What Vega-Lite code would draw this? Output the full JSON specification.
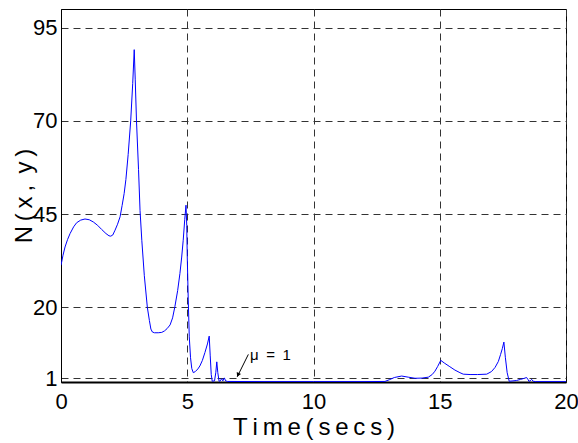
{
  "$schema": "https://vega.github.io/schema/vega-lite/v6.json",
  "width": 505,
  "height": 373,
  "autosize": "none",
  "padding": {"left": 61, "top": 9, "right": 12, "bottom": 61},
  "background": "white",
  "config": {
    "view": {"stroke": "black", "strokeWidth": 1},
    "axis": {
      "labelFont": "Liberation Sans, Arial",
      "titleFont": "Liberation Sans, Arial",
      "labelFontSize": 22,
      "titleFontSize": 24,
      "labelColor": "black",
      "titleColor": "black",
      "titleFontWeight": "normal",
      "domainColor": "black",
      "domainWidth": 1,
      "ticks": false,
      "grid": true,
      "gridColor": "#333333",
      "gridDash": [7, 5],
      "gridWidth": 1,
      "gridOpacity": 1
    }
  },
  "datasets": {
    "curve": [
      {"t": 0, "v": 31.3}, {"t": 0.08, "v": 34.0}, {"t": 0.16, "v": 36.2}, {"t": 0.26, "v": 38.2},
      {"t": 0.36, "v": 39.8}, {"t": 0.5, "v": 41.6}, {"t": 0.62, "v": 42.7}, {"t": 0.78, "v": 43.4},
      {"t": 0.95, "v": 43.7}, {"t": 1.12, "v": 43.5}, {"t": 1.28, "v": 42.9}, {"t": 1.45, "v": 42.0},
      {"t": 1.61, "v": 40.9}, {"t": 1.78, "v": 39.8}, {"t": 1.9, "v": 39.2}, {"t": 1.97, "v": 39.1},
      {"t": 2.05, "v": 39.4}, {"t": 2.14, "v": 40.7}, {"t": 2.24, "v": 42.3}, {"t": 2.34, "v": 44.3},
      {"t": 2.42, "v": 47.3}, {"t": 2.5, "v": 50.5}, {"t": 2.57, "v": 54.3}, {"t": 2.66, "v": 61},
      {"t": 2.76, "v": 70}, {"t": 2.84, "v": 80}, {"t": 2.9, "v": 89.1}, {"t": 2.94, "v": 81},
      {"t": 2.99, "v": 70}, {"t": 3.07, "v": 57}, {"t": 3.13, "v": 46}, {"t": 3.2, "v": 38},
      {"t": 3.3, "v": 28.5}, {"t": 3.42, "v": 20}, {"t": 3.5, "v": 16.5}, {"t": 3.56, "v": 14.2},
      {"t": 3.62, "v": 13.4}, {"t": 3.7, "v": 13.2}, {"t": 3.85, "v": 13.2}, {"t": 3.99, "v": 13.3},
      {"t": 4.1, "v": 13.7}, {"t": 4.2, "v": 14.3}, {"t": 4.32, "v": 15.3}, {"t": 4.42, "v": 17.2},
      {"t": 4.51, "v": 20.2}, {"t": 4.62, "v": 24.5}, {"t": 4.71, "v": 29.1}, {"t": 4.78, "v": 33.5},
      {"t": 4.84, "v": 38}, {"t": 4.9, "v": 43.5}, {"t": 4.95, "v": 47.4}, {"t": 4.98, "v": 42},
      {"t": 5.0, "v": 33.6}, {"t": 5.04, "v": 22}, {"t": 5.08, "v": 12.1}, {"t": 5.13, "v": 6.5},
      {"t": 5.18, "v": 3.6}, {"t": 5.24, "v": 2.5}, {"t": 5.32, "v": 2.8}, {"t": 5.42, "v": 3.5},
      {"t": 5.5, "v": 4.3}, {"t": 5.6, "v": 5.8}, {"t": 5.7, "v": 7.9}, {"t": 5.8, "v": 10.2},
      {"t": 5.87, "v": 12.3}, {"t": 5.91, "v": 7}, {"t": 5.95, "v": 2}, {"t": 5.99, "v": 0.2},
      {"t": 6.08, "v": 0.3}, {"t": 6.13, "v": 2.5}, {"t": 6.17, "v": 5.4}, {"t": 6.21, "v": 2.5},
      {"t": 6.26, "v": 0.2}, {"t": 6.31, "v": 0.3}, {"t": 6.36, "v": 0.9}, {"t": 6.41, "v": 0.3},
      {"t": 6.47, "v": 1.1}, {"t": 6.52, "v": 0.3}, {"t": 6.6, "v": 0.15}, {"t": 8, "v": 0.1},
      {"t": 10, "v": 0.1}, {"t": 12, "v": 0.1}, {"t": 12.83, "v": 0.15}, {"t": 13.0, "v": 0.6},
      {"t": 13.2, "v": 1.2}, {"t": 13.49, "v": 1.6}, {"t": 13.75, "v": 1.3}, {"t": 14.02, "v": 1.0},
      {"t": 14.3, "v": 1.05}, {"t": 14.55, "v": 1.3}, {"t": 14.7, "v": 2.0}, {"t": 14.81, "v": 2.9},
      {"t": 14.92, "v": 4.2}, {"t": 15.04, "v": 5.8}, {"t": 15.2, "v": 5.0}, {"t": 15.4, "v": 4.1},
      {"t": 15.6, "v": 3.2}, {"t": 15.8, "v": 2.5}, {"t": 15.93, "v": 2.1}, {"t": 16.2, "v": 2.0},
      {"t": 16.5, "v": 2.0}, {"t": 16.86, "v": 2.1}, {"t": 17.05, "v": 2.8}, {"t": 17.19, "v": 3.9},
      {"t": 17.32, "v": 5.5}, {"t": 17.41, "v": 7.4}, {"t": 17.48, "v": 9.0}, {"t": 17.54, "v": 10.7},
      {"t": 17.6, "v": 6.5}, {"t": 17.67, "v": 2.5}, {"t": 17.75, "v": 0.2}, {"t": 17.9, "v": 0.3},
      {"t": 18.04, "v": 0.4}, {"t": 18.2, "v": 0.7}, {"t": 18.35, "v": 1.0}, {"t": 18.44, "v": 1.2},
      {"t": 18.5, "v": 0.6}, {"t": 18.53, "v": 0.2}, {"t": 18.58, "v": 0.3}, {"t": 18.64, "v": 0.7},
      {"t": 18.7, "v": 0.2}, {"t": 18.8, "v": 0.1}, {"t": 20, "v": 0.1}
    ],
    "arrow": [{"t": 7.42, "v": 7.4, "t2": 6.98, "v2": 1.4}],
    "head": [{"t": 7.01, "v": 1.9}],
    "note": [{"t": 7.49, "v": 5.9, "label": "μ\u2002=\u20021"}]
  },
  "layer": [
    {
      "data": {"name": "curve"},
      "mark": {"type": "line", "color": "#0000ff", "strokeWidth": 1, "clip": true},
      "encoding": {
        "x": {
          "field": "t", "type": "quantitative",
          "scale": {"domain": [0, 20], "nice": false, "zero": false},
          "axis": {"values": [0, 5, 10, 15, 20], "title": "T\u2009i\u2009m\u2009e\u2009(\u2009s\u2009e\u2009c\u2009s\u2009)", "labelPadding": 9, "titlePadding": 3, "labelFlush": false, "domainWidth": 2}
        },
        "y": {
          "field": "v", "type": "quantitative",
          "scale": {"domain": [0, 100], "nice": false},
          "axis": {"values": [1, 20, 45, 70, 95], "title": "N\u2009(\u2009x\u2009, \u2009y\u2009)", "labelPadding": 4, "titlePadding": -4}
        }
      }
    },
    {
      "data": {"name": "arrow"},
      "mark": {"type": "rule", "color": "black", "strokeWidth": 1},
      "encoding": {
        "x": {"field": "t", "type": "quantitative"},
        "y": {"field": "v", "type": "quantitative"},
        "x2": {"field": "t2"},
        "y2": {"field": "v2"}
      }
    },
    {
      "data": {"name": "head"},
      "mark": {"type": "point", "shape": "triangle-down", "filled": true, "color": "black", "size": 22, "angle": 25, "opacity": 1},
      "encoding": {
        "x": {"field": "t", "type": "quantitative"},
        "y": {"field": "v", "type": "quantitative"}
      }
    },
    {
      "data": {"name": "note"},
      "mark": {"type": "text", "align": "left", "baseline": "alphabetic", "font": "Liberation Sans, Arial", "fontSize": 15, "color": "black"},
      "encoding": {
        "x": {"field": "t", "type": "quantitative"},
        "y": {"field": "v", "type": "quantitative"},
        "text": {"field": "label"}
      }
    }
  ]
}
